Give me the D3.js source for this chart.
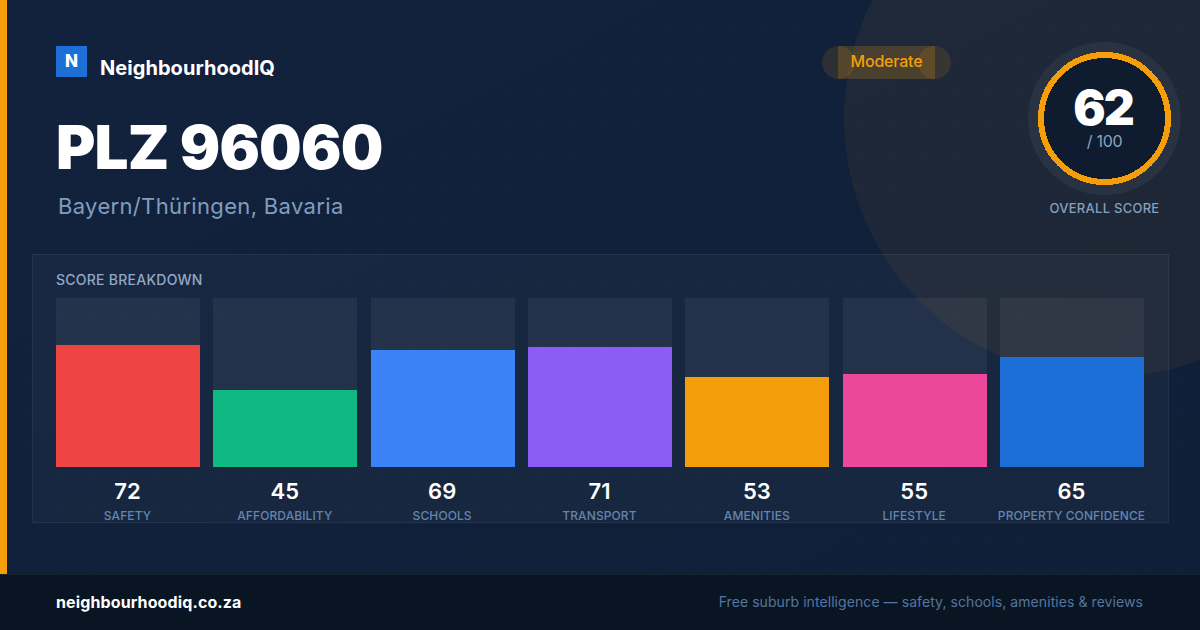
<!DOCTYPE html>
<html>
<head>
<meta charset="utf-8">
<script src="https://cdn.jsdelivr.net/npm/d3@7"></script>
<style>
  html, body { margin: 0; padding: 0; background: #0f1f3a; }
  svg { display: block; }
  text { font-family: Inter, "Noto Sans", sans-serif; }
</style>
</head>
<body>
<div id="canvas"></div>
<script>
var categories = ["SAFETY", "AFFORDABILITY", "SCHOOLS", "TRANSPORT", "AMENITIES", "LIFESTYLE", "PROPERTY CONFIDENCE"];
var scores = [72, 45, 69, 71, 53, 55, 65];
var barColors = ["#ef4444", "#10b981", "#3b82f6", "#8b5cf6", "#f59e0b", "#ec4899", "#1d6fd8"];
var overallScore = 62;
var overallMax = 100;

var width = 1200;
var height = 630;

var svg = d3.select("#canvas").append("svg")
    .attr("width", width)
    .attr("height", height);

var defs = svg.append("defs");

var grad = defs.append("linearGradient")
    .attr("id", "bg")
    .attr("x1", "0").attr("y1", "0").attr("x2", "1").attr("y2", "1");
grad.append("stop").attr("offset", "0").attr("stop-color", "#12223d");
grad.append("stop").attr("offset", "1").attr("stop-color", "#0f1f38");

var dots = defs.append("pattern")
    .attr("id", "dots")
    .attr("patternUnits", "userSpaceOnUse")
    .attr("width", 32).attr("height", 32);
dots.append("rect")
    .attr("x", 24).attr("y", 24)
    .attr("width", 2).attr("height", 2)
    .attr("fill", "#ffffff")
    .attr("opacity", 0.02);

// background
svg.append("rect").attr("width", width).attr("height", height).attr("fill", "url(#bg)");
svg.append("circle")
    .attr("cx", 1104).attr("cy", 118).attr("r", 260)
    .attr("fill", "#f59e0b").attr("opacity", 0.06);
svg.append("rect").attr("width", width).attr("height", height).attr("fill", "url(#dots)");
svg.append("rect").attr("width", 7).attr("height", 574).attr("fill", "#f59e0b");

// brand
svg.append("rect").attr("x", 56).attr("y", 46).attr("width", 31).attr("height", 31).attr("fill", "#1d6fd8");
svg.append("text").attr("x", 71.5).attr("y", 67).attr("text-anchor", "middle")
    .attr("font-size", 17).attr("font-weight", 800).attr("fill", "#fff").text("N");
svg.append("text").attr("x", 100).attr("y", 75)
    .attr("font-size", 20).attr("font-weight", 700).attr("letter-spacing", 0.05).attr("fill", "#fff").text("NeighbourhoodIQ");

// title
svg.append("text").attr("x", 56).attr("y", 169)
    .attr("font-size", 60).attr("font-weight", 900).attr("letter-spacing", -0.8).attr("fill", "#fff").text("PLZ 96060");
svg.append("text").attr("x", 58).attr("y", 214)
    .attr("font-size", 22).attr("letter-spacing", 0.34).attr("fill", "#819dbe").text("Bayern/Thüringen, Bavaria");

// rating pill
var pill = svg.append("g").attr("fill", "#f59e0b");
pill.append("rect").attr("x", 838).attr("y", 46).attr("width", 97).attr("height", 33).attr("fill-opacity", 0.2);
pill.append("circle").attr("cx", 838.5).attr("cy", 62.5).attr("r", 16.5).attr("fill-opacity", 0.12);
pill.append("circle").attr("cx", 934.5).attr("cy", 62.5).attr("r", 16.5).attr("fill-opacity", 0.12);
svg.append("text").attr("x", 886.5).attr("y", 67).attr("text-anchor", "middle")
    .attr("font-size", 16).attr("font-weight", 500).attr("letter-spacing", -0.2).attr("fill", "#f59e0b").text("Moderate");

// overall score
var cx = 1104.5, cy = 118.5;
svg.append("circle").attr("cx", cx).attr("cy", cy).attr("r", 76.5).attr("fill", "#ffffff").attr("opacity", 0.05);
svg.append("circle").attr("cx", cx).attr("cy", cy).attr("r", 63.5)
    .attr("fill", "#0f1b2e").attr("stroke", "#f59e0b").attr("stroke-width", 6)
    .attr("shape-rendering", "crispEdges");
svg.append("text").attr("x", cx - 1.5).attr("y", 125).attr("text-anchor", "middle")
    .attr("font-size", 48).attr("font-weight", 900).attr("letter-spacing", -2).attr("fill", "#fff").text(overallScore);
svg.append("text").attr("x", cx).attr("y", 147).attr("text-anchor", "middle")
    .attr("font-size", 16).attr("letter-spacing", -0.3).attr("fill", "#8aa3bf").text("/ " + overallMax);
svg.append("text").attr("x", cx).attr("y", 213).attr("text-anchor", "middle")
    .attr("font-size", 13).attr("font-weight", 500).attr("letter-spacing", 0.26).attr("fill", "#86a0bf").text("OVERALL SCORE");

// breakdown panel
svg.append("rect")
    .attr("x", 32.5).attr("y", 254.5).attr("width", 1136).attr("height", 268)
    .attr("fill", "#ffffff").attr("fill-opacity", 0.03)
    .attr("stroke", "#ffffff").attr("stroke-opacity", 0.07);
svg.append("text").attr("x", 56).attr("y", 285)
    .attr("font-size", 14).attr("font-weight", 500).attr("letter-spacing", 0.25).attr("fill", "#90a9c4").text("SCORE BREAKDOWN");

var x = d3.scaleBand()
    .domain(categories)
    .range([56, 1144])
    .paddingInner(13.33 / 157.33);

var y = d3.scaleLinear()
    .domain([0, 100])
    .range([467, 298]);

var columns = svg.selectAll("g.column")
    .data(categories)
  .enter().append("g")
    .attr("class", "column");

columns.append("rect")
    .attr("x", function (d) { return Math.round(x(d)); })
    .attr("y", y(100))
    .attr("width", 144)
    .attr("height", y(0) - y(100))
    .attr("fill", "#ffffff")
    .attr("opacity", 0.055);

columns.append("rect")
    .attr("x", function (d) { return Math.round(x(d)); })
    .attr("y", function (_, i) { return Math.floor(y(scores[i])); })
    .attr("width", 144)
    .attr("height", function (_, i) { return y(0) - Math.floor(y(scores[i])); })
    .attr("fill", function (_, i) { return barColors[i]; });

columns.append("text")
    .attr("x", function (d) { return x(d) + x.bandwidth() / 2 - 0.5; })
    .attr("y", 499)
    .attr("text-anchor", "middle")
    .attr("font-size", 22)
    .attr("font-weight", 600)
    .attr("fill", "#fff")
    .text(function (_, i) { return scores[i]; });

columns.append("text")
    .attr("x", function (d) { return x(d) + x.bandwidth() / 2 - 0.5; })
    .attr("y", 520)
    .attr("text-anchor", "middle")
    .attr("font-size", 12)
    .attr("font-weight", 500)
    .attr("letter-spacing", 0.1)
    .attr("fill", "#6485ad")
    .text(function (d) { return d; });

// footer
svg.append("rect").attr("x", 0).attr("y", 574).attr("width", width).attr("height", 56).attr("fill", "#0a1524");
svg.append("rect").attr("x", 0).attr("y", 574).attr("width", width).attr("height", 1).attr("fill", "#ffffff").attr("opacity", 0.05);
svg.append("text").attr("x", 56).attr("y", 608)
    .attr("font-size", 16).attr("font-weight", 700).attr("letter-spacing", 0.12).attr("fill", "#fff").text("neighbourhoodiq.co.za");
svg.append("text").attr("x", 1143).attr("y", 607).attr("text-anchor", "end")
    .attr("font-size", 14).attr("letter-spacing", 0.07).attr("fill", "#54769f").text("Free suburb intelligence — safety, schools, amenities & reviews");
</script>
</body>
</html>
